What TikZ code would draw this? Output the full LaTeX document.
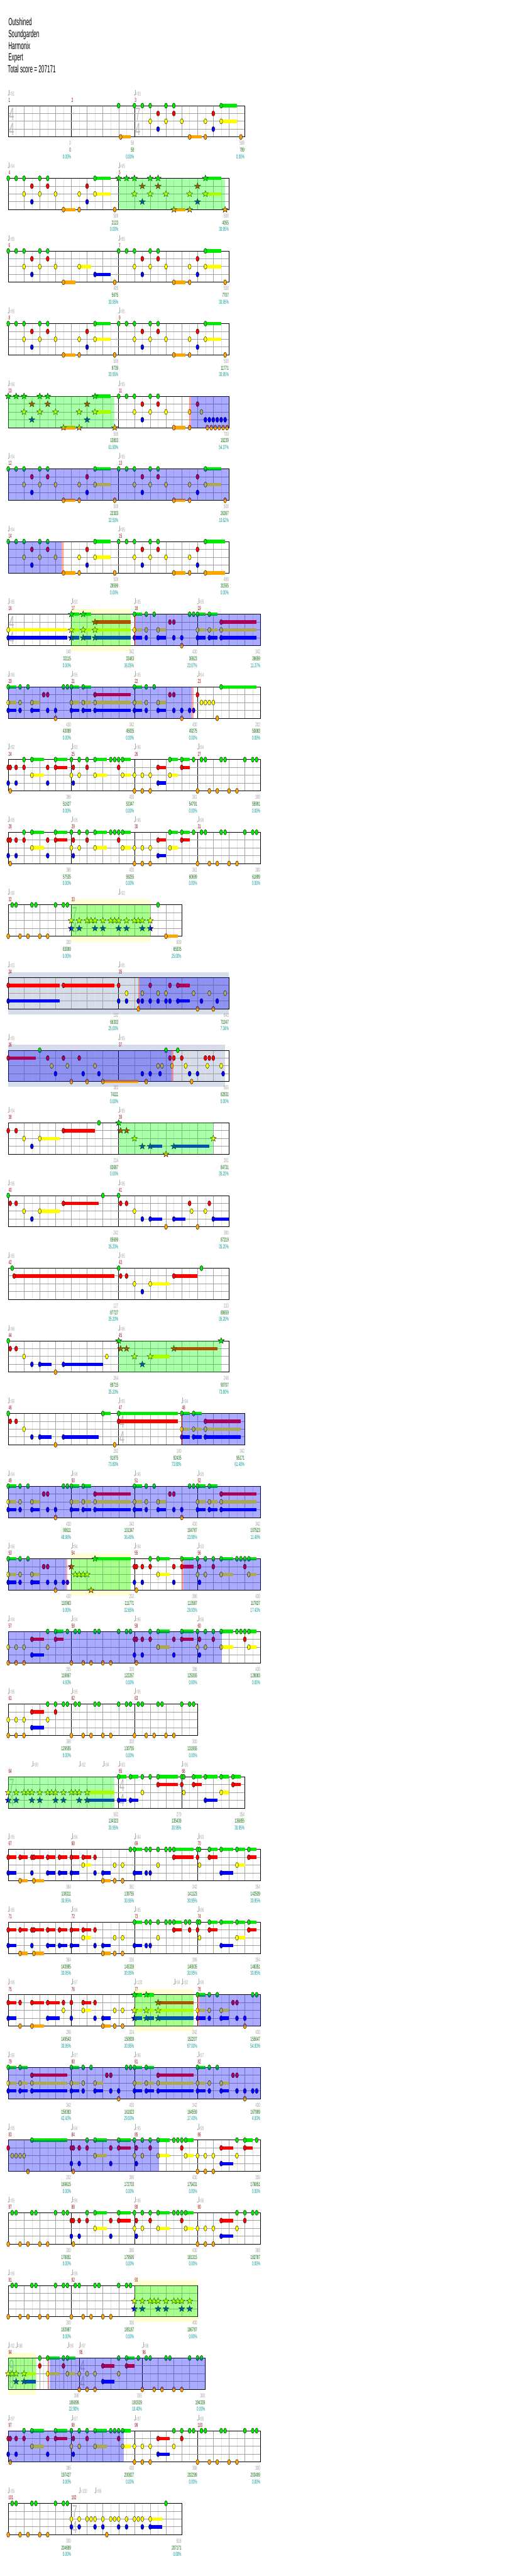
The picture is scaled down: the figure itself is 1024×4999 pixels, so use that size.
\documentclass[tikz,border=0pt]{standalone}
\usepackage{fontspec}
\setmainfont{Liberation Sans}[FakeStretch=0.5]
\usepackage{xcolor}
\usetikzlibrary{positioning}

\definecolor{ln0}{RGB}{0,235,0}
\definecolor{ln1}{RGB}{255,0,0}
\definecolor{ln2}{RGB}{255,255,0}
\definecolor{ln3}{RGB}{0,0,255}
\definecolor{ln4}{RGB}{255,165,0}
\definecolor{gridlt}{RGB}{226,226,226}
\definecolor{gridbt}{RGB}{165,165,165}
\definecolor{staffin}{RGB}{160,160,160}
\definecolor{bgyel}{RGB}{255,255,210}
\definecolor{bggray}{RGB}{214,220,234}
\definecolor{tmpcol}{RGB}{170,170,170}
\definecolor{numcol}{RGB}{150,0,0}
\definecolor{sccol}{RGB}{160,160,160}
\definecolor{totcol}{RGB}{0,100,0}
\definecolor{pctcol}{RGB}{0,150,150}

\newcommand\lblfont{\fontsize{11.2}{13}\selectfont}
\newcommand\ttlfont{\fontsize{20}{24}\selectfont}
\newcommand\tsfnt{\fontsize{35}{40}\selectfont}

\tikzset{
  gridlt/.style={draw=gridlt, line width=0.6pt},
  gridbt/.style={draw=gridbt, line width=0.6pt},
  barln/.style={draw=black, line width=0.8pt},
  staffin/.style={draw=staffin, line width=1.1pt},
  staffout/.style={draw=black, line width=0.9pt},
  gemhead/.style={draw=black, line width=0.45pt},
  mnum/.style={anchor=base west, inner sep=0pt, text=numcol, font=\lblfont},
  msc/.style={anchor=base east, inner sep=0pt, text=sccol, font=\lblfont},
  mtot/.style={anchor=base east, inner sep=0pt, text=totcol, font=\lblfont},
  mpct/.style={anchor=base east, inner sep=0pt, text=pctcol, font=\lblfont},
  tmptext/.style={anchor=base west, inner sep=0pt, text=tmpcol, font=\lblfont},
  tsdigit/.style={anchor=base, inner sep=0pt, text=gray!55, font=\tsfnt},
  ttl/.style={anchor=base west, inner sep=0pt, font=\ttlfont}
}

% eighth width, lane spacing
\newcommand\EW{15.3125}
\newcommand\LH{15.2}
\newif\ifisstar
\newif\iffinegrid
\newcounter{tmpc}
\newcounter{tsc}

\newcommand{\setrow}[2]{%
  \pgfmathsetmacro\rowtop{205+141*#1}%
  \pgfmathsetmacro\rowend{16+#2*\EW}%
  \def\starfrom{-9}\def\starto{-9}}
\newcommand{\stars}[2]{\def\starfrom{#1}\def\starto{#2}}
\newcommand{\setm}[1]{\def\mstart{#1}\pgfmathsetmacro\mxpos{16+(#1)*\EW}}

% measure: start, length (eighths), number, score, total, percent
\newcommand{\meas}[6]{%
  \pgfmathsetmacro\mxa{16+(#1)*\EW}%
  \pgfmathsetmacro\mxb{16+(#1+#2)*\EW}%
  \iffinegrid
    \pgfmathtruncatemacro\mkn{2*#2-1}%
    \foreach \k in {1,...,\mkn}{%
      \ifodd\k \draw[gridlt] (\mxa+\k*\EW/2,\rowtop) -- ++(0,60.8);%
      \else \draw[gridbt] (\mxa+\k*\EW/2,\rowtop) -- ++(0,60.8);\fi}%
  \else
    \pgfmathtruncatemacro\mkn{#2-1}%
    \foreach \k in {1,...,\mkn}{%
      \ifodd\k \draw[gridlt] (\mxa+\k*\EW,\rowtop) -- ++(0,60.8);%
      \else \draw[gridbt] (\mxa+\k*\EW,\rowtop) -- ++(0,60.8);\fi}%
  \fi
  \draw[barln] (\mxa,\rowtop) -- ++(0,60.8);%
  \node[mnum] (num#3) at (\mxa+0.3,\rowtop-7) {#3};%
  \node[msc] (sc#3) at (\mxb-0.5,\rowtop+76.8) {#4};%
  \node[mtot] (tot#3) at (\mxb-0.5,\rowtop+90) {#5};%
  \node[mpct] (pct#3) at (\mxb-0.5,\rowtop+103) {#6\%};}

\newcommand{\staffh}{%
  \foreach \l in {1,2,3}{\draw[staffin] (16,\rowtop+\l*\LH) -- (\rowend,\rowtop+\l*\LH);}%
  \draw[staffout] (16,\rowtop) rectangle (\rowend,\rowtop+60.8);}

\newcommand{\tsig}[3]{%
  \stepcounter{tsc}%
  \pgfmathsetmacro\tx{16+(#1)*\EW}%
  \node[tsdigit] (ts\arabic{tsc}a) at (\tx+6.6,\rowtop+28.3) {#2};%
  \node[tsdigit] (ts\arabic{tsc}b) at (\tx+6.6,\rowtop+58.3) {#3};}

\newcommand{\tempo}[2]{%
  \stepcounter{tmpc}%
  \pgfmathsetmacro\tx{16+(#1)*\EW}%
  \fill[tmpcol] (\tx+0.6,\rowtop-20.7) ellipse [x radius=1.6pt, y radius=1.2pt];%
  \draw[tmpcol, line width=0.6pt] (\tx+1.9,\rowtop-21) -- (\tx+1.9,\rowtop-31);%
  \node[tmptext] (tmp\arabic{tmpc}) at (\tx+2.6,\rowtop-19.3) {=#2};}

\newcommand{\onehit}[2]{%
  \pgfmathsetmacro\gx{\mxpos+(#2)*\EW}%
  \pgfmathsetmacro\gy{\rowtop+(#1)*\LH}%
  \pgfmathsetmacro\ab{\mstart+(#2)}%
  \isstarfalse
  \ifdim\ab pt<\starfrom pt\else\ifdim\ab pt>\starto pt\else\isstartrue\fi\fi
  \ifisstar
    \draw[gemhead, fill=ln#1, shift={(\gx,\gy)}] (90:6.3pt) -- (126:2.6pt) -- (162:6.3pt) -- (198:2.6pt)
      -- (234:6.3pt) -- (270:2.6pt) -- (306:6.3pt) -- (342:2.6pt) -- (18:6.3pt) -- (54:2.6pt) -- cycle;%
  \else
    \draw[gemhead, fill=ln#1] (\gx,\gy) ellipse [x radius=3pt, y radius=5pt];%
  \fi}
\newcommand{\hit}[2]{\foreach \hp in {#2}{\onehit{#1}{\hp}}}
\newcommand{\sus}[3]{%
  \pgfmathsetmacro\gx{\mxpos+(#2)*\EW}%
  \pgfmathsetmacro\gy{\rowtop+(#1)*\LH}%
  \fill[ln#1] (\gx,\gy-3.3) rectangle ++(#3*\EW,6.6);%
  \onehit{#1}{#2}}

% regions
\newcommand{\bgyel}[2]{\fill[bgyel] (16+#1*\EW,\rowtop-10.5) rectangle (16+#2*\EW,\rowtop+71.3);}
\newcommand{\bggray}[2]{\fill[bggray] (16+#1*\EW,\rowtop-10.5) rectangle (16+#2*\EW,\rowtop+71.3);}
\newcommand{\ovgreen}[2]{\fill[green, fill opacity=0.333] (16+#1*\EW,\rowtop) rectangle (16+#2*\EW,\rowtop+60.8);}
\newcommand{\ovblue}[2]{\fill[blue, fill opacity=0.333] (16+#1*\EW,\rowtop) rectangle (16+#2*\EW,\rowtop+60.8);}
\newcommand{\ovpink}[1]{\fill[red, fill opacity=0.333] (16+#1*\EW,\rowtop) rectangle ++(3,60.8);}

% riffs
\newcommand\pA{\hit{0}{0,1,2,4,5}\sus{0}{11}{2}\hit{1}{3,5,10}\hit{2}{2,4,6,9}\sus{2}{11}{2}\hit{3}{3,10}\sus{4}{7}{1.5}\hit{4}{9,13.5}}
\newcommand\pB{\hit{0}{0,1,2,4,5}\hit{1}{3,5}\hit{2}{2,4,6}\sus{2}{9}{1.5}\hit{3}{3}\sus{3}{11}{2}\sus{4}{7}{1.5}\hit{4}{13.5}}
\newcommand\pAe{\hit{0}{0,1,2,4,5}\hit{1}{3,5,10}\hit{2}{2,4,6,9,10.5}\hit{3}{3,11,11.5,12,12.5,13,13.5}\sus{4}{7}{1.5}\hit{4}{9,11.25,11.75,12.25,12.75,13.25,13.75}}
\newcommand\pAf{\hit{0}{0,1,2,4,5}\sus{0}{11}{2.5}\hit{1}{3,5,10}\hit{2}{2,4,6,9}\hit{3}{3,10}\sus{4}{7}{1.5}\hit{4}{9}\sus{4}{11}{2.5}}
\newcommand\pC{\sus{0}{0}{1}\sus{0}{1.5}{1}\sus{1}{3}{4.5}\sus{2}{0}{1}\sus{2}{1.5}{1}\sus{2}{3}{4.5}\sus{3}{0}{1}\sus{3}{1.5}{1}\sus{3}{3}{4.5}}
\newcommand\pD{\sus{0}{0}{1}\hit{0}{1.5,2.5,7,7.5}\hit{1}{4.5,5}\sus{2}{0}{1}\hit{2}{1.5}\sus{2}{3}{1}\sus{3}{0}{1}\hit{3}{1.5,5,6}\sus{3}{3}{1}\hit{4}{6}}
\newcommand\pDb{\sus{0}{0}{1}\hit{0}{1.5,2.5}\hit{1}{4.5,5}\sus{2}{0}{1}\hit{2}{1.5}\sus{2}{3}{1}\sus{3}{0}{1}\hit{3}{1.5,5,6,7,7.5}\sus{3}{3}{1}\hit{4}{6}}
\newcommand\pE{\hit{1}{0}\hit{2}{0.5,1,1.5,2}\hit{4}{2.5}\sus{0}{3}{4.5}}
\newcommand\pG{\hit{0}{2}\sus{0}{3}{1.5}\sus{0}{6}{1.5}\hit{1}{0,0.25,1,2,5}\sus{1}{6}{1.5}\sus{2}{3}{1.5}\hit{3}{0,1,5}\hit{4}{0.25}}
\newcommand\pH{\hit{0}{0,1,2,5,5.5,6}\sus{0}{3}{1.5}\sus{0}{6.5}{1}\hit{1}{0.25,2,6}\hit{2}{0,1}\sus{2}{3}{1.5}\sus{2}{6.5}{1}\hit{3}{0.25}}
\newcommand\pI{\hit{2}{0,1,2}\sus{2}{4.5}{1}\hit{4}{0,1,2}\sus{1}{3}{1}\sus{1}{6}{1}\sus{3}{3}{1}\sus{0}{4.5}{1}\sus{0}{6}{1}\hit{0}{7.5}}
\newcommand\pJ{\hit{2}{0,1,2,5}\hit{4}{0,1,2}\sus{1}{3}{1.5}\sus{1}{6}{1}\sus{3}{3}{1.5}\hit{0}{5,7.5}\sus{0}{6}{1}}
\newcommand\pJb{\hit{2}{0,1,2,5}\hit{4}{0,1,2}\sus{1}{3}{1.5}\hit{1}{6}\sus{3}{3}{1.5}\hit{0}{5,6,7,7.5}}
\newcommand\pF{\hit{0}{0.5,1,3,3.5,6,7,7.5}\hit{4}{0,1.5,2.5,4,5}}
\newcommand\pK{\hit{2}{0,1,2,2.5,3,4,5,5.5,6,7,8,8.5,9}\hit{3}{0,1,3,4,6,7,9}}
\newcommand\pL{\hit{0}{0,0.25}\sus{0}{1.5}{1}\sus{0}{3}{1.5}\sus{0}{5}{1}\sus{0}{6.5}{1}\hit{1}{0}\sus{1}{1.5}{1}\sus{1}{6.5}{1}\hit{2}{0.25}\sus{2}{5}{1}\sus{3}{3}{1.5}}
\newcommand\pM{\sus{1}{0}{1}\sus{1}{1.5}{1}\hit{1}{3}\sus{1}{3.25}{1.25}\sus{1}{5}{1}\sus{1}{6.5}{1}\sus{3}{0}{1}\hit{3}{3}\sus{3}{5}{1}\sus{3}{6.5}{1}\sus{4}{1.5}{1}\sus{4}{3.25}{1.25}}
\newcommand\pN{\sus{1}{0}{1}\sus{1}{1.5}{1}\hit{1}{3}\sus{2}{1.5}{1}\hit{2}{5.5,6.5}\sus{3}{0}{1}\hit{3}{3}\sus{3}{4}{1}\sus{4}{4}{1}\hit{4}{5.5,6.5}}

\begin{document}
\begin{tikzpicture}[x=1pt, y=-1pt]
\useasboundingbox (0,0) rectangle (1024,4999);
\fill[white] (0,0) rectangle (1024,4999);

% header
\node[ttl] (title) at (16,49.3) {Outshined};
\node[ttl] (artist) at (16,72.7) {Soundgarden};
\node[ttl] (charter) at (16,95.7) {Harmonix};
\node[ttl] (diff) at (16,118.3) {Expert};
\node[ttl] (total) at (15,141.3) {Total score = 207171};

% row 0
\setrow{0}{30}
\meas{0}{8}{1}{0}{0}{0.00}
\meas{8}{8}{2}{58}{58}{0.00}
\meas{16}{14}{3}{508}{799}{0.00}
\staffh
\tsig{0}{4}{4}\tsig{16}{7}{4}
\tempo{0}{91}\tempo{16}{93}
\setm{8}\hit{0}{6}\sus{4}{6.25}{1.25}
\setm{16}\pA

% row 1
\setrow{1}{28}\stars{14}{27.6}
\meas{0}{14}{4}{508}{2123}{0.00}
\meas{14}{14}{5}{508}{4055}{30.95}
\staffh
\tempo{0}{94}\tempo{14}{95}
\setm{0}\pA\setm{14}\pA
\ovgreen{14}{27.5}

% row 2
\setrow{2}{28}
\meas{0}{14}{6}{405}{5675}{30.95}
\meas{14}{14}{7}{508}{7707}{30.95}
\staffh
\tempo{0}{95}\tempo{14}{95}
\setm{0}\pB\setm{14}\pA

% row 3
\setrow{3}{28}
\meas{0}{14}{8}{508}{9739}{30.95}
\meas{14}{14}{9}{508}{11771}{30.95}
\staffh
\tempo{0}{95}\tempo{14}{95}
\setm{0}\pA\setm{14}\pA

% row 4
\setrow{4}{28}\stars{0}{13.6}
\meas{0}{14}{10}{508}{13803}{61.90}
\meas{14}{14}{11}{709}{18239}{54.37}
\staffh
\tempo{0}{96}\tempo{14}{95}
\setm{0}\pA\setm{14}\pAe
\ovgreen{0}{13.5}\ovpink{22.96}\ovblue{23.15}{28}

% row 5
\setrow{5}{28}
\meas{0}{14}{12}{508}{22303}{32.50}
\meas{14}{14}{13}{508}{26367}{10.62}
\staffh
\tempo{0}{94}\tempo{14}{95}
\setm{0}\pA\setm{14}\pA
\ovblue{0}{28}

% row 6
\setrow{6}{28}
\meas{0}{14}{14}{508}{29599}{0.00}
\meas{14}{14}{15}{489}{31555}{0.00}
\staffh
\tempo{0}{94}\tempo{14}{95}
\setm{0}\pA\setm{14}\pAf
\ovblue{0}{6.8}\ovpink{6.8}

% row 7
\setrow{7}{32}\stars{8}{15.9}
\bgyel{8}{15.5}
\meas{0}{8}{16}{140}{32115}{0.00}
\meas{8}{8}{17}{342}{33483}{36.05}
\meas{16}{8}{18}{430}{36923}{23.87}
\meas{24}{8}{19}{342}{39659}{11.37}
\staffh
\tsig{0}{4}{4}
\tempo{0}{95}\tempo{8}{93}\tempo{16}{95}\tempo{24}{95}
\setm{0}\sus{2}{0}{7.5}\sus{3}{0}{7.5}
\setm{8}\pC\setm{16}\pD\setm{24}\pC
\ovgreen{8}{15.5}\ovpink{16}\ovblue{16.2}{32}

% row 8
\setrow{8}{32}
\meas{0}{8}{20}{430}{43099}{0.00}
\meas{8}{8}{21}{342}{45835}{0.00}
\meas{16}{8}{22}{430}{49275}{0.00}
\meas{24}{8}{23}{202}{50083}{0.00}
\staffh
\tempo{0}{96}\tempo{8}{95}\tempo{16}{95}\tempo{24}{94}
\setm{0}\pD\setm{8}\pC\setm{16}\pDb\setm{24}\pE
\ovblue{0}{23.27}\ovpink{23.27}

% row 9
\setrow{9}{32}
\meas{0}{8}{24}{386}{51627}{0.00}
\meas{8}{8}{25}{430}{53347}{0.00}
\meas{16}{8}{26}{361}{54791}{0.00}
\meas{24}{8}{27}{300}{55991}{0.00}
\staffh
\tempo{0}{92}\tempo{8}{93}\tempo{16}{96}\tempo{24}{94}
\setm{0}\pG\setm{8}\pH\setm{16}\pI\setm{24}\pF

% row 10
\setrow{10}{32}
\meas{0}{8}{28}{386}{57535}{0.00}
\meas{8}{8}{29}{430}{59255}{0.00}
\meas{16}{8}{30}{361}{60699}{0.00}
\meas{24}{8}{31}{300}{61899}{0.00}
\staffh
\tempo{0}{95}\tempo{8}{95}\tempo{16}{96}\tempo{24}{96}
\setm{0}\pG\setm{8}\pH\setm{16}\pI\setm{24}\pF

% row 11
\setrow{11}{22}\stars{8}{18.1}
\bgyel{8}{18}
\meas{0}{8}{32}{300}{63099}{0.00}
\meas{8}{14}{33}{609}{65535}{25.00}
\staffh
\tsig{8}{7}{4}
\tempo{0}{96}\tempo{14}{92}
\setm{0}\pF
\setm{8}\pK\hit{2}{10}\hit{3}{10}\hit{0}{11}\sus{4}{12}{1.5}
\ovgreen{8}{18}

% row 12
\setrow{12}{28}
\bggray{0}{28}
\meas{0}{14}{34}{192}{66303}{25.00}
\meas{14}{14}{35}{643}{71047}{7.34}
\staffh
\tempo{0}{93}\tempo{14}{95}
\setm{0}\sus{1}{0}{6.5}\sus{1}{7}{6.5}\sus{3}{0}{6.5}
\setm{14}\hit{1}{0,4,6.5}\sus{1}{7.5}{1.5}\hit{2}{1,3,5,6,9.5,11.5,13.5}\hit{3}{0,1,2.5,3,4,5,6,6.5,10.5,12.5}\sus{3}{7.5}{1.5}\hit{4}{2.5,10,12}
\ovpink{16.45}\ovblue{16.65}{28}

% row 13
\setrow{13}{28}
\bggray{0}{27.5}
\meas{0}{14}{36}{383}{74111}{0.00}
\meas{14}{14}{37}{565}{82831}{0.00}
\staffh
\tempo{0}{95}\tempo{14}{95}
\setm{0}\hit{0}{4}\sus{1}{0}{3.5}\hit{1}{5,7,9}\hit{2}{5.5,7.5,11}\hit{3}{6,9.5,11.5}\hit{4}{8,10}\sus{4}{12}{4.5}
\setm{14}\hit{0}{6,7.5}\hit{1}{6.5,7,8,11,11.5,12}\hit{2}{5,5.5,6.75,8.5,11.25,13}\hit{3}{3,4,5.25,9,10,13.25}\hit{4}{3.5,9.25}
\ovblue{0}{20.72}\ovpink{20.72}

% row 14
\setrow{14}{28}\stars{14}{28}
\meas{0}{14}{38}{214}{83687}{0.00}
\meas{14}{14}{39}{261}{84731}{35.20}
\staffh
\tempo{0}{94}\tempo{14}{95}
\setm{0}\hit{1}{0,1}\sus{1}{7}{4}\hit{2}{2}\sus{2}{4}{2.5}\hit{3}{3}\hit{0}{11.5}
\setm{14}\hit{0}{0}\hit{1}{0.25,1}\hit{2}{2,12}\hit{3}{3}\sus{3}{4}{1.5}\sus{3}{7}{4.5}\hit{4}{6}
\ovgreen{14}{26}

% row 15
\setrow{15}{28}
\meas{0}{14}{40}{242}{85699}{35.20}
\meas{14}{14}{41}{380}{87219}{35.20}
\staffh
\tempo{0}{96}\tempo{14}{96}
\setm{0}\hit{0}{0,12}\hit{1}{0.25,1}\sus{1}{7}{4.5}\hit{2}{2}\sus{2}{4}{2.5}\hit{3}{3}
\setm{14}\hit{0}{0}\hit{1}{0.25,1,9,11.5}\hit{2}{2,9.25,11}\hit{3}{3}\sus{3}{4}{1.5}\sus{3}{7}{1.5}\sus{3}{12}{2}\hit{4}{6,10}

% row 16
\setrow{16}{28}
\meas{0}{14}{42}{127}{87727}{35.20}
\meas{14}{14}{43}{233}{88659}{35.20}
\staffh
\tempo{0}{95}\tempo{14}{95}
\setm{0}\hit{0}{0.5}\sus{1}{0.75}{12.75}
\setm{14}\hit{0}{0,10.5}\hit{1}{0.25,1}\sus{1}{7}{3}\hit{2}{2}\sus{2}{4}{2.5}\hit{3}{3}

% row 17
\setrow{17}{28}\stars{14}{28}
\meas{0}{14}{44}{264}{89715}{35.20}
\meas{14}{14}{45}{248}{90707}{73.80}
\staffh
\tempo{0}{96}\tempo{14}{96}
\setm{0}\hit{0}{0}\hit{1}{0.25,1}\hit{2}{2,12.5}\hit{3}{3}\sus{3}{4}{1.5}\sus{3}{7}{5}\hit{4}{6}
\setm{14}\hit{0}{0,13}\hit{1}{0.25,1}\sus{1}{7}{5.5}\hit{2}{2}\sus{2}{4}{2.5}\hit{3}{3}
\ovgreen{14}{27}

% row 18
\setrow{18}{30}
\meas{0}{14}{46}{292}{91875}{73.80}
\meas{14}{8}{47}{140}{92435}{73.80}
\meas{22}{8}{48}{342}{95171}{61.48}
\staffh
\tsig{14}{4}{4}
\tempo{0}{96}\tempo{14}{95}\tempo{22}{94}
\setm{0}\hit{0}{0}\sus{0}{12}{1}\hit{1}{0.25,1}\hit{2}{2}\hit{3}{3}\sus{3}{4}{1.5}\sus{3}{7}{4.5}\hit{4}{6,13.5}
\setm{14}\sus{0}{0}{7.5}\sus{1}{0}{7.5}
\setm{22}\pC
\ovpink{21.9}\ovblue{22.1}{30}

% row 19
\setrow{19}{32}
\meas{0}{8}{49}{430}{98611}{48.98}
\meas{8}{8}{50}{342}{101347}{36.48}
\meas{16}{8}{51}{430}{104787}{23.98}
\meas{24}{8}{52}{342}{107523}{11.48}
\staffh
\tempo{0}{94}\tempo{8}{96}\tempo{16}{96}\tempo{24}{95}
\setm{0}\pD\setm{8}\pC\setm{16}\pD\setm{24}\pC
\ovblue{0}{32}

% row 20
\setrow{20}{32}\stars{8}{15.9}
\bgyel{8}{15.5}
\meas{0}{8}{53}{430}{110963}{0.00}
\meas{8}{8}{54}{202}{111771}{32.65}
\meas{16}{8}{55}{386}{113587}{29.93}
\meas{24}{8}{56}{430}{117027}{17.43}
\staffh
\tempo{0}{96}\tempo{8}{94}\tempo{16}{94}\tempo{24}{93}
\setm{0}\pDb\setm{8}\pE\setm{16}\pG\setm{24}\pH
\ovblue{0}{7.31}\ovpink{7.31}\ovgreen{8}{15.5}\ovpink{22}\ovblue{22.22}{32}

% row 21
\setrow{21}{32}
\meas{0}{8}{57}{355}{119867}{4.93}
\meas{8}{8}{58}{300}{122267}{0.00}
\meas{16}{8}{59}{386}{125355}{0.00}
\meas{24}{8}{60}{430}{128083}{0.00}
\staffh
\tempo{0}{94}\tempo{8}{94}\tempo{16}{96}\tempo{24}{96}
\setm{0}\pJ\setm{8}\pF\setm{16}\pG\setm{24}\pH
\ovblue{0}{27.1}

% row 22
\setrow{22}{24}
\meas{0}{8}{61}{368}{129555}{0.00}
\meas{8}{8}{62}{300}{130755}{0.00}
\meas{16}{8}{63}{300}{131955}{0.00}
\staffh
\tempo{0}{96}\tempo{8}{95}\tempo{16}{95}
\setm{0}\pJb\setm{8}\pF\setm{16}\pF

% row 23
\setrow{23}{30}\stars{0}{13.9}
\meas{0}{14}{64}{592}{134323}{30.95}
\meas{14}{8}{65}{279}{135439}{30.95}
\meas{22}{8}{66}{354}{136855}{30.95}
\staffh
\tsig{0}{7}{4}\tsig{14}{4}{4}
\tempo{3}{98}\tempo{9}{92}\tempo{12}{94}\tempo{14}{93}\tempo{22}{96}
\setm{0}\pK\sus{2}{10}{3.5}\sus{3}{10}{3.5}
\setm{14}\sus{0}{0}{1}\sus{0}{1.5}{1}\hit{0}{3,4}\sus{0}{5}{2.5}\sus{1}{5}{2.5}\hit{2}{3}\sus{3}{0}{1}\sus{3}{1.5}{1}
\setm{22}\pL
\ovgreen{0}{13.5}

% row 24
\setrow{24}{32}
\meas{0}{8}{67}{364}{138311}{30.95}
\meas{8}{8}{68}{361}{139755}{30.95}
\meas{16}{8}{69}{342}{141123}{30.95}
\meas{24}{8}{70}{354}{142539}{30.95}
\staffh
\tempo{0}{95}\tempo{8}{96}\tempo{16}{94}\tempo{24}{93}
\setm{0}\pM\setm{8}\pN\hit{0}{7.5}
\setm{16}\sus{0}{0}{1}\hit{0}{1.5,2,3,4,4.5}\sus{0}{5}{2.5}\sus{1}{5}{2.5}\hit{2}{3}\sus{3}{0}{1}\hit{3}{1.5,2}
\setm{24}\pL

% row 25
\setrow{25}{32}
\meas{0}{8}{71}{364}{143995}{30.95}
\meas{8}{8}{72}{336}{145339}{30.95}
\meas{16}{8}{73}{399}{146935}{30.95}
\meas{24}{8}{74}{354}{148351}{30.95}
\staffh
\tempo{0}{95}\tempo{8}{96}\tempo{16}{95}\tempo{24}{96}
\setm{0}\pM\setm{8}\pN
\setm{16}\sus{0}{0}{1}\hit{0}{1.5,2,3,4,4.5,6.5,7}\sus{0}{5}{1}\sus{1}{5}{1}\hit{1}{7}\hit{2}{3}\sus{3}{0}{1}\hit{3}{1.5,2}
\setm{24}\pL

% row 26
\setrow{26}{32}\stars{16}{23.9}
\bgyel{16}{23.5}
\meas{0}{8}{75}{298}{149543}{30.95}
\meas{8}{8}{76}{324}{150839}{30.95}
\meas{16}{8}{77}{342}{152207}{67.00}
\meas{24}{8}{78}{430}{155647}{54.93}
\staffh
\tempo{0}{96}\tempo{8}{97}\tempo{16}{100}\tempo{21}{94}\tempo{22}{92}\tempo{24}{96}
\setm{0}\sus{1}{0}{1}\hit{1}{1.5,7}\sus{1}{3}{1.5}\sus{1}{5}{1.5}\hit{2}{7}\sus{3}{0}{1}\sus{3}{5}{1.5}\hit{4}{1.5}\sus{4}{3}{1.5}
\setm{8}\hit{1}{0,3}\sus{1}{1.5}{1}\sus{2}{1.5}{1}\hit{2}{5.5,6.5}\hit{3}{0,3}\sus{3}{4}{1}\sus{4}{4}{1}\hit{4}{5.5,6.5}
\setm{16}\pC\setm{24}\pD
\ovgreen{16}{23.5}\ovpink{24}\ovblue{24.23}{32}

% row 27
\setrow{27}{32}
\meas{0}{8}{79}{342}{158383}{42.43}
\meas{8}{8}{80}{430}{161823}{29.93}
\meas{16}{8}{81}{342}{164559}{17.43}
\meas{24}{8}{82}{430}{167999}{4.93}
\staffh
\tempo{0}{96}\tempo{8}{97}\tempo{16}{96}\tempo{24}{97}
\setm{0}\pC\setm{8}\pD\setm{16}\pC\setm{24}\pDb
\ovblue{0}{32}

% row 28
\setrow{28}{32}
\meas{0}{8}{83}{202}{169615}{0.00}
\meas{8}{8}{84}{386}{172703}{0.00}
\meas{16}{8}{85}{430}{175431}{0.00}
\meas{24}{8}{86}{355}{176851}{0.00}
\staffh
\tempo{0}{95}\tempo{8}{94}\tempo{16}{95}\tempo{24}{95}
\setm{0}\pE\setm{8}\pG\setm{16}\pH\setm{24}\pJ
\ovblue{0}{19.09}

% row 29
\setrow{29}{32}
\meas{0}{8}{87}{300}{178051}{0.00}
\meas{8}{8}{88}{386}{179595}{0.00}
\meas{16}{8}{89}{430}{181315}{0.00}
\meas{24}{8}{90}{368}{182787}{0.00}
\staffh
\tempo{0}{95}\tempo{8}{96}\tempo{16}{96}\tempo{24}{96}
\setm{0}\pF\setm{8}\pG\setm{16}\pH\setm{24}\pJb

% row 30
\setrow{30}{24}\stars{16}{24}
\bgyel{16}{24}
\meas{0}{8}{91}{300}{183987}{0.00}
\meas{8}{8}{92}{300}{185187}{0.00}
\meas{16}{8}{93}{400}{186787}{0.00}
\staffh
\tempo{0}{96}\tempo{8}{96}
\setm{0}\pF\setm{8}\pF
\setm{16}\hit{2}{0,1,2,2.5,3,4,5,5.5,6,7}\hit{3}{0,1,3,4,6,7}
\ovgreen{16}{24}

% row 31
\setrow{31}{25}\stars{0}{2.1}
\bgyel{0}{3.5}
\finegridtrue
\meas{0}{9}{94}{398}{189099}{22.90}
\finegridfalse
\meas{9}{8}{95}{355}{191939}{10.40}
\meas{17}{8}{96}{300}{194339}{0.00}
\staffh
\tsig{0}{9}{8}\tsig{9}{4}{4}
\tempo{0}{92}\tempo{1}{98}\tempo{7.5}{96}\tempo{9}{97}\tempo{17}{98}
\setm{0}\hit{2}{0,0.5,1}\sus{2}{2}{1.5}\hit{3}{1}\sus{3}{2}{1.5}\hit{0}{4,7}\sus{0}{5}{1.5}\sus{0}{7.5}{1}\hit{1}{4,7}\sus{2}{5}{1.5}\sus{2}{7.5}{1}
\setm{9}\pJ\setm{17}\pF
\ovgreen{0}{3.5}\ovpink{5}\ovblue{5.24}{25}

% row 32
\setrow{32}{32}
\meas{0}{8}{97}{386}{197427}{0.00}
\meas{8}{8}{98}{430}{200827}{0.00}
\meas{16}{8}{99}{368}{202299}{0.00}
\meas{24}{8}{100}{300}{203499}{0.00}
\staffh
\tempo{0}{97}\tempo{8}{97}\tempo{16}{97}\tempo{24}{96}
\setm{0}\pG\setm{8}\pH\setm{16}\pJb\setm{24}\pF
\ovblue{0}{14.63}

% row 33
\setrow{33}{22}
\meas{0}{8}{101}{300}{204699}{0.00}
\meas{8}{14}{102}{618}{207171}{0.00}
\staffh
\tsig{8}{7}{4}
\tempo{0}{95}\tempo{9}{100}\tempo{11}{96}
\setm{0}\pF
\setm{8}\pK\sus{2}{10}{1.5}\sus{3}{10}{1.5}\hit{4}{4.5}\hit{0}{12}
\end{tikzpicture}
\end{document}
